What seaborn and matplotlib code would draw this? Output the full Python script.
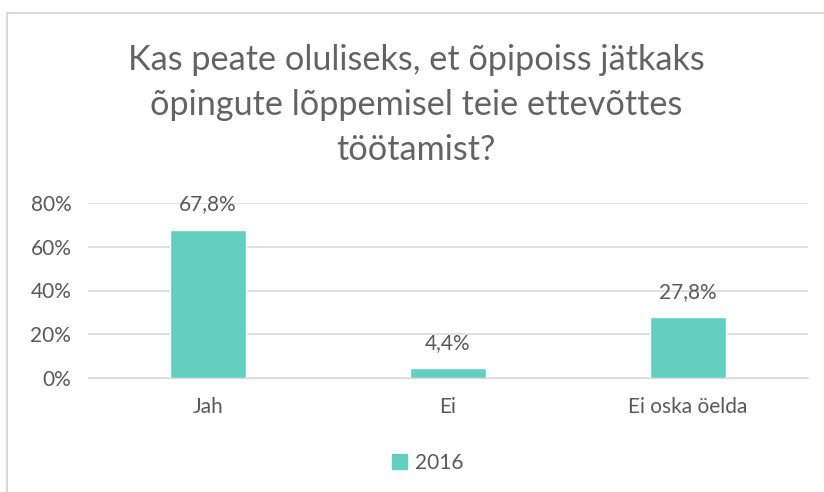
import pandas as pd
import seaborn as sns
import matplotlib.pyplot as plt
from matplotlib.patches import Rectangle

# Data
categories = ["Jah", "Ei", "Ei oska öelda"]
values_2016 = [67.8, 4.4, 27.8]
series_name = "2016"
title = "Kas peate oluliseks, et õpipoiss jätkaks\nõpingute lõppemisel teie ettevõttes\ntöötamist?"

BAR_COLOR = "#63CFC1"
TEXT_COLOR = "#595959"
GRID_COLOR = "#D9D9D9"
FS = 15

sns.set_style("white")
plt.rcParams['font.family'] = ['Lato', 'DejaVu Sans']

df = pd.DataFrame({"category": categories, "value": values_2016, "series": series_name})

fig = plt.figure(figsize=(8.24, 4.92), dpi=100)
ax = fig.add_axes([88 / 824, 1 - 378 / 492, 720 / 824, 175 / 492])

sns.barplot(data=df, x="category", y="value", hue="series", palette=[BAR_COLOR],
            width=0.317, ax=ax, legend=False, saturation=1)

ax.set_ylim(0, 80)
ax.set_xlim(-0.5, 2.5)
ax.set_yticks([0, 20, 40, 60, 80])
ax.set_yticklabels([f"{t}%" for t in [0, 20, 40, 60, 80]])
ax.yaxis.grid(True, color=GRID_COLOR, linewidth=1.2)
ax.set_axisbelow(True)
for s in ax.spines.values():
    s.set_visible(False)
ax.spines['bottom'].set_visible(True)
ax.spines['bottom'].set_color(GRID_COLOR)
ax.tick_params(axis='both', length=0, labelsize=FS, colors=TEXT_COLOR, pad=12)
ax.tick_params(axis='x', pad=14)
ax.set_xlabel("")
ax.set_ylabel("")

for i, v in enumerate(values_2016):
    ax.annotate(f"{v:.1f}%".replace(".", ","), (i, v), xytext=(0, 11),
                textcoords="offset points", ha="center", va="bottom",
                fontsize=FS, color=TEXT_COLOR, annotation_clip=False)

fig.text(0.5 * (8 + 824) / 824, 1 - 105 / 492, title, ha="center", va="center",
         fontsize=24.7, color="#636363", linespacing=1.5)

# Legend
handle = Rectangle((0, 0), 1, 1, color=BAR_COLOR)
fig.legend([handle], [series_name], loc="center", bbox_to_anchor=(428 / 824, 1 - 463 / 492),
           frameon=False, fontsize=FS, labelcolor=TEXT_COLOR, handlelength=0.7,
           handleheight=0.7, handletextpad=0.4)

# Chart frame (left and top edges visible)
fig.add_artist(Rectangle((7 / 824, -0.1), 1.2, 1 - 13 / 492 + 0.1, transform=fig.transFigure,
                         fill=False, edgecolor="#D9D9D9", linewidth=1.5))

fig.savefig("out.png", dpi=100)
